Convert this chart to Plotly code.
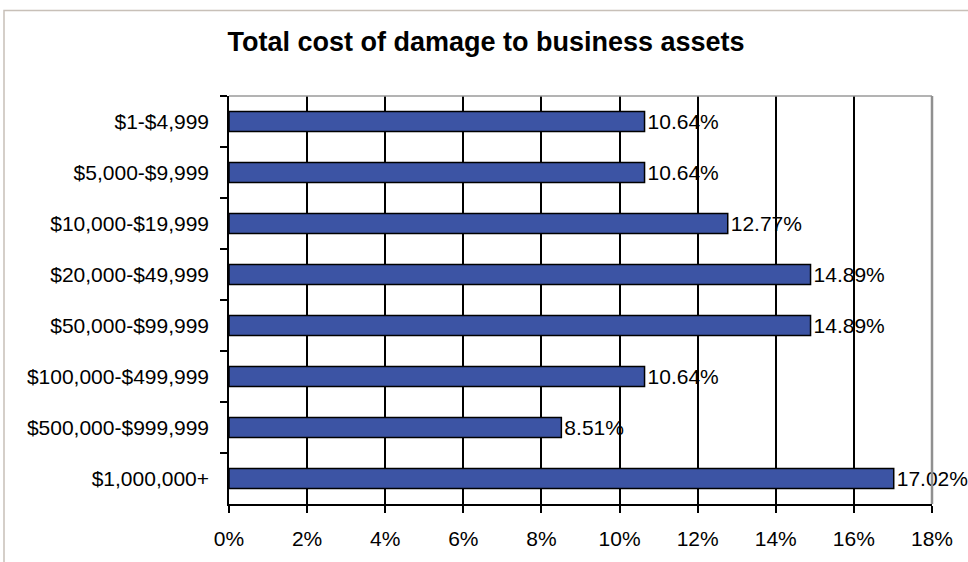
import plotly.graph_objects as go

categories = ["$1-$4,999", "$5,000-$9,999", "$10,000-$19,999", "$20,000-$49,999",
              "$50,000-$99,999", "$100,000-$499,999", "$500,000-$999,999", "$1,000,000+"]
values = [10.64, 10.64, 12.77, 14.89, 14.89, 10.64, 8.51, 17.02]
labels = ["10.64%", "10.64%", "12.77%", "14.89%", "14.89%", "10.64%", "8.51%", "17.02%"]
tick_vals = [0, 2, 4, 6, 8, 10, 12, 14, 16, 18]
tick_text = ["0%", "2%", "4%", "6%", "8%", "10%", "12%", "14%", "16%", "18%"]

FONT = "Liberation Sans, Arial, sans-serif"

fig = go.Figure()
fig.add_trace(go.Bar(
    x=values, y=categories, orientation="h",
    marker=dict(color="#3C54A4", line=dict(color="#000000", width=1.5)),
    width=0.39,
    text=labels, textposition="outside",
    textfont=dict(family=FONT, size=21, color="#000000"),
    constraintext="none", cliponaxis=False,
    hoverinfo="skip",
))

fig.update_layout(
    width=968, height=562,
    margin=dict(l=229, r=36, t=96, b=56),
    paper_bgcolor="white", plot_bgcolor="white",
    showlegend=False,
    title=dict(text="<b>Total cost of damage to business assets</b>",
               x=486 / 968, xanchor="center", xref="container", y=1 - 42 / 562, yanchor="middle",
               font=dict(family=FONT, size=27, color="#000000")),
    font=dict(family=FONT, size=21, color="#000000"),
    xaxis=dict(range=[0, 18], tickvals=tick_vals, ticktext=tick_text,
               showgrid=True, gridcolor="#000000", gridwidth=1.5,
               showline=True, linecolor="#000000", linewidth=1.5,
               ticks="outside", ticklen=7, tickcolor="#000000", tickwidth=1.5,
               zeroline=False, fixedrange=True, ticklabelstandoff=8,
               tickfont=dict(family=FONT, size=21, color="#000000")),
    yaxis=dict(categoryorder="array", categoryarray=categories, autorange="reversed",
               showline=True, linecolor="#000000", linewidth=1.5,
               ticks="outside", ticklen=7, tickcolor="#000000", tickwidth=1.5,
               tickson="boundaries", showgrid=False, fixedrange=True,
               ticklabelstandoff=14,
               tickfont=dict(family=FONT, size=21, color="#000000")),
    shapes=[
        # plot area top/right border
        dict(type="line", xref="paper", yref="paper", x0=0, x1=1, y0=1, y1=1,
             line=dict(color="#9a9a9a", width=1.5), layer="above"),
        dict(type="line", xref="paper", yref="paper", x0=1, x1=1, y0=0, y1=1,
             line=dict(color="#909090", width=2.5), layer="above"),
        # outer chart frame
        dict(type="rect", xref="paper", yref="paper",
             x0=(4 - 229) / 703, x1=1.2, y0=-0.3, y1=1 + (96 - 10) / 410,
             line=dict(color="#C8C0B8", width=1.5), layer="below"),
    ],
)

fig.write_html("out.html", config={"displayModeBar": False},
               post_script="document.body.style.margin='0';")
